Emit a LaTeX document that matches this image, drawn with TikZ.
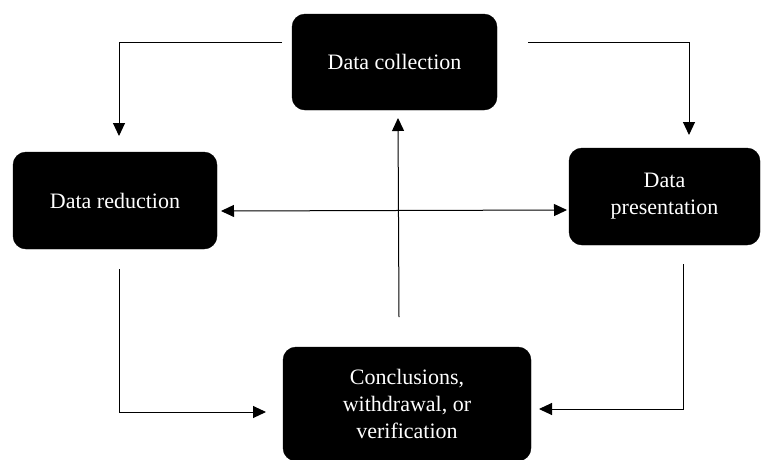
\documentclass[tikz,border=0pt]{standalone}
\usepackage{fontspec}
\setmainfont{Liberation Serif}
\usetikzlibrary{arrows.meta}
\begin{document}
\begin{tikzpicture}[x=1pt,y=-1pt,
  blk/.style={draw=black,fill=black,rounded corners=13pt,text=white,align=center,
    font=\fontsize{22}{27}\selectfont,inner sep=0pt},
  con/.style={draw=black,line width=1pt},
  arr/.style={con,-{Triangle[length=13pt,width=12pt]}},
  darr/.style={con,{Triangle[length=13pt,width=12pt]}-{Triangle[length=13pt,width=12pt]}}]
\useasboundingbox (0,0) rectangle (761,459);
\begin{scope}
\clip (0,0) rectangle (761,459);
\node[blk,minimum width=205pt,minimum height=96pt] (dc) at (394.5,62) {Data collection};
\node[blk,minimum width=204pt,minimum height=97pt] (dr) at (115,200.5) {Data reduction};
\node[blk,minimum width=191pt,minimum height=97pt] (dp) at (664.5,196.5) {Data\\presentation};
\node[blk,minimum width=248pt,minimum height=114pt] (cc) at (407,404) {Conclusions,\\withdrawal, or\\verification};
\end{scope}
% free ends
\coordinate (a1) at (282,42);
\coordinate (a2) at (119,42);
\coordinate (a3) at (119,136);
\coordinate (b1) at (528,42);
\coordinate (b2) at (689,42);
\coordinate (b3) at (689,135);
\coordinate (c1) at (221,211);
\coordinate (c2) at (567,210);
\coordinate (d1) at (399,317);
\coordinate (d2) at (398,118);
\coordinate (e1) at (119,269);
\coordinate (e2) at (119,412);
\coordinate (e3) at (266,412);
\coordinate (f1) at (683,264);
\coordinate (f2) at (683,409);
\coordinate (f3) at (539,409);
\draw[arr] (a1) -- (a2) -- (a3);
\draw[arr] (b1) -- (b2) -- (b3);
\draw[darr] (c1) -- (c2);
\draw[arr] (d1) -- (d2);
\draw[arr] (e1) -- (e2) -- (e3);
\draw[arr] (f1) -- (f2) -- (f3);
\end{tikzpicture}
\end{document}
